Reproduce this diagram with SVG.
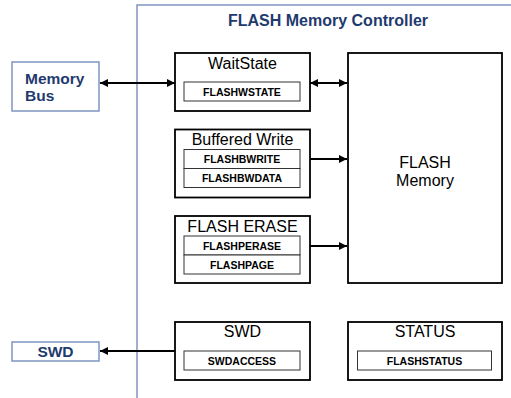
<svg xmlns="http://www.w3.org/2000/svg" width="511" height="398" viewBox="0 0 511 398">
<defs>
<style>
.ext{fill:#fff;stroke:#7f95c0;stroke-width:1.5}
.blk{fill:#fff;stroke:#000;stroke-width:1.8}
.reg{fill:#fff;stroke:#333;stroke-width:1}
.bt{font-family:"Liberation Sans",Arial,sans-serif;font-weight:bold;fill:#1f3a6e}
.tt{font-family:"Liberation Sans",Arial,sans-serif;font-size:16px;fill:#000;text-anchor:middle}
.rt{font-family:"Liberation Sans",Arial,sans-serif;font-size:10.5px;font-weight:bold;fill:#000;text-anchor:middle}
.ln{stroke:#000;stroke-width:1.8;fill:none}
</style>
<marker id="ah" viewBox="0 0 8 8" refX="8" refY="4" markerWidth="8" markerHeight="8" markerUnits="userSpaceOnUse" orient="auto-start-reverse">
<path d="M0,0 L8,4 L0,8 Z" fill="#000"/>
</marker>
</defs>
<rect width="511" height="398" fill="#fff"/>
<g id="controller">
<rect x="137" y="5" width="390" height="410" fill="none" stroke="#7f95c0" stroke-width="1.5"/>
<text class="bt" x="328" y="26" font-size="16" text-anchor="middle">FLASH Memory Controller</text>
</g>
<g id="connectors">
<line class="ln" x1="100" y1="83" x2="175" y2="83" marker-start="url(#ah)" marker-end="url(#ah)"/>
<line class="ln" x1="310" y1="83" x2="347" y2="83" marker-start="url(#ah)" marker-end="url(#ah)"/>
<line class="ln" x1="310" y1="159" x2="347" y2="159" marker-end="url(#ah)"/>
<line class="ln" x1="310" y1="246" x2="347" y2="246" marker-end="url(#ah)"/>
<line class="ln" x1="175" y1="351" x2="100" y2="351" marker-end="url(#ah)"/>
</g>
<g id="memorybus">
<rect class="ext" x="12" y="62" width="87" height="49"/>
<text class="bt" x="25" y="84" font-size="15.5">Memory</text>
<text class="bt" x="25" y="101" font-size="15.5">Bus</text>
</g>
<g id="swd-ext">
<rect class="ext" x="12" y="342" width="87" height="19"/>
<text class="bt" x="55.5" y="357" font-size="15.5" text-anchor="middle">SWD</text>
</g>
<g id="waitstate">
<rect class="blk" x="175" y="53" width="135" height="58"/>
<text class="tt" x="242.5" y="69">WaitState</text>
<rect class="reg" x="184" y="82" width="116" height="19"/>
<text class="rt" x="242" y="95.5">FLASHWSTATE</text>
</g>
<g id="bufferedwrite">
<rect class="blk" x="175" y="129.5" width="135" height="68"/>
<text class="tt" x="242.5" y="145">Buffered Write</text>
<rect class="reg" x="184" y="149.5" width="116" height="19"/>
<text class="rt" x="242" y="163">FLASHBWRITE</text>
<rect class="reg" x="184" y="168.5" width="116" height="19"/>
<text class="rt" x="242" y="182">FLASHBWDATA</text>
</g>
<g id="flasherase">
<rect class="blk" x="175" y="216" width="135" height="67"/>
<text class="tt" x="242.5" y="232">FLASH ERASE</text>
<rect class="reg" x="184" y="236" width="116" height="19"/>
<text class="rt" x="242" y="249.5">FLASHPERASE</text>
<rect class="reg" x="184" y="255" width="116" height="19"/>
<text class="rt" x="242" y="268.5">FLASHPAGE</text>
</g>
<g id="flashmemory">
<rect class="blk" x="348" y="53" width="154" height="230"/>
<text class="tt" x="425" y="168" font-size="17">FLASH</text>
<text class="tt" x="425" y="186" font-size="17">Memory</text>
</g>
<g id="swd">
<rect class="blk" x="175" y="322" width="135" height="58"/>
<text class="tt" x="242.5" y="337">SWD</text>
<rect class="reg" x="184" y="351" width="116" height="19"/>
<text class="rt" x="242" y="364.5">SWDACCESS</text>
</g>
<g id="status">
<rect class="blk" x="348" y="322" width="154" height="58"/>
<text class="tt" x="425" y="337">STATUS</text>
<rect class="reg" x="357.5" y="351" width="134" height="19"/>
<text class="rt" x="424.5" y="364.5">FLASHSTATUS</text>
</g>
</svg>
